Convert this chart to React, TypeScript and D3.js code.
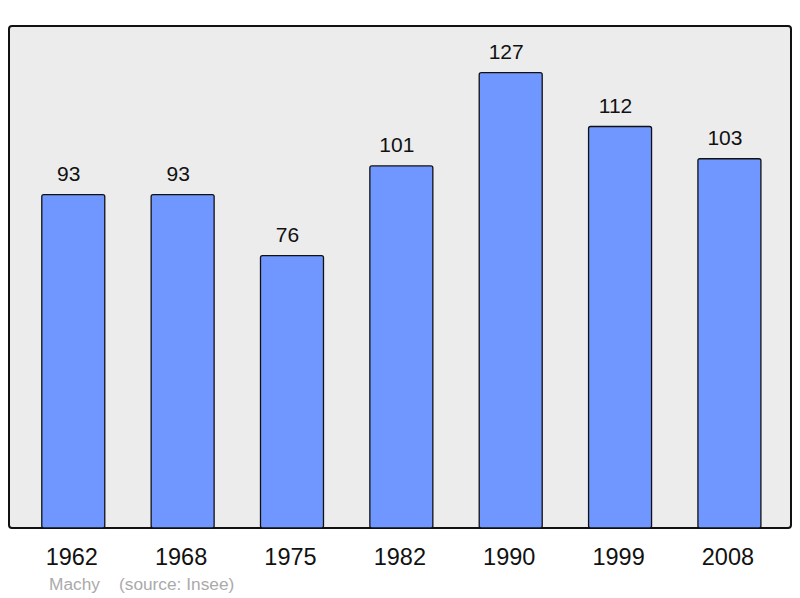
import React, { useEffect, useRef } from "react";
import * as d3 from "d3";

const years = ["1962", "1968", "1975", "1982", "1990", "1999", "2008"];
const population = [93, 93, 76, 101, 127, 112, 103];
const commune = "Machy";
const source = "(source: Insee)";

const W = 800,
  H = 598;
const frame = { left: 9, top: 26, right: 791, bottom: 528 };
const font = "Liberation Sans, Arial, sans-serif";

const x = d3
  .scaleBand<string>()
  .domain(years)
  .range([18.6, 784.1])
  .paddingInner(0.424)
  .paddingOuter(0.212);
const y = d3.scaleLinear().domain([0, 127]).range([528, 72.7]);

export default function App() {
  const ref = useRef<SVGSVGElement>(null);

  useEffect(() => {
    const svg = d3.select(ref.current);
    svg.selectAll("*").remove();

    // plot frame
    svg
      .append("rect")
      .attr("x", frame.left)
      .attr("y", frame.top)
      .attr("width", frame.right - frame.left)
      .attr("height", frame.bottom - frame.top)
      .attr("rx", 3)
      .attr("fill", "#ececec")
      .attr("stroke", "#111")
      .attr("stroke-width", 2);

    // bars
    svg
      .append("g")
      .selectAll("rect")
      .data(population)
      .enter()
      .append("rect")
      .attr("x", (d, i) => x(years[i])!)
      .attr("y", (d) => y(d))
      .attr("width", x.bandwidth())
      .attr("height", (d) => y(0) - y(d))
      .attr("rx", 2)
      .attr("fill", "#7097ff")
      .attr("stroke", "#111")
      .attr("stroke-width", 1.3);

    // value labels (sit a little left of the bar centre, like the original)
    svg
      .append("g")
      .selectAll("text")
      .data(population)
      .enter()
      .append("text")
      .attr("x", (d, i) => x(years[i])! + x.bandwidth() / 2 - 4.5)
      .attr("y", (d) => y(d) - 13.8)
      .attr("text-anchor", "middle")
      .style("font-family", font)
      .style("font-size", "21px")
      .style("fill", "#111")
      .text((d) => d);

    // year labels
    svg
      .append("g")
      .selectAll("text")
      .data(years)
      .enter()
      .append("text")
      .attr("x", (d) => x(d)! + x.bandwidth() / 2 - 1.5)
      .attr("y", 565)
      .attr("text-anchor", "middle")
      .style("font-family", font)
      .style("font-size", "23.5px")
      .style("fill", "#111")
      .text((d) => d);

    // footer
    svg
      .append("text")
      .attr("x", 49)
      .attr("y", 590)
      .style("font-family", font)
      .style("font-size", "17.3px")
      .style("fill", "#aaaaaa")
      .text(commune);
    svg
      .append("text")
      .attr("x", 119)
      .attr("y", 590)
      .style("font-family", font)
      .style("font-size", "17.3px")
      .style("fill", "#aaaaaa")
      .text(source);
  }, []);

  return (
    <svg
      ref={ref}
      width={W}
      height={H}
      style={{ position: "absolute", left: 0, top: 0, background: "#fff" }}
    />
  );
}
